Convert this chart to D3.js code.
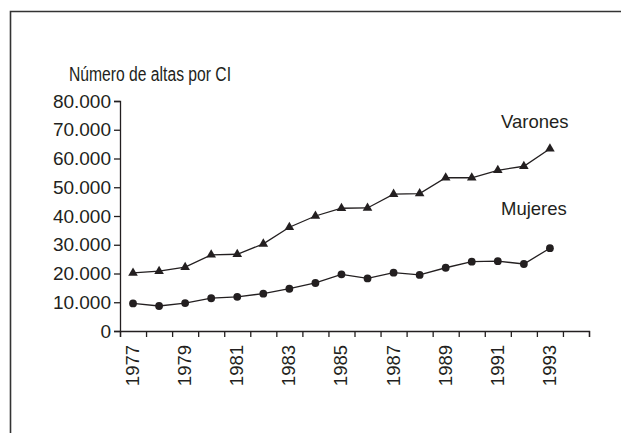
<!DOCTYPE html>
<html>
<head>
<meta charset="utf-8">
<script src="https://cdn.jsdelivr.net/npm/d3@7"></script>
<style>
  body { margin: 0; background: #fff; }
  svg text { font-family: "Liberation Sans", Arial, sans-serif; fill: #231f20; }
  .axis path, .axis line { stroke: #231f20; stroke-width: 1.3; }
</style>
</head>
<body>
<div id="chart"></div>
<script>
var width = 621;
var height = 433;

// data
var years = d3.range(1977, 1995);   // 18 bands, last one empty
var dataYears = d3.range(1977, 1994);
var varones = [20200, 20800, 22200, 26500, 26700, 30300, 36100, 40000, 42700, 42800,
               47600, 47800, 53300, 53300, 55900, 57300, 63400];
var mujeres = [9600, 8700, 9700, 11400, 11900, 13000, 14700, 16700, 19700, 18300,
               20300, 19500, 22000, 24100, 24300, 23300, 28800];
var yTicks = [0, 10000, 20000, 30000, 40000, 50000, 60000, 70000, 80000];
var xLabels = [1977, 1979, 1981, 1983, 1985, 1987, 1989, 1991, 1993];

var svg = d3.select("#chart").append("svg")
    .attr("width", width)
    .attr("height", height);

// frame around the figure (runs off the right and bottom edges)
svg.append("path")
    .attr("d", "M10.5," + height + "V11.5H" + width)
    .attr("fill", "none")
    .attr("stroke", "#333")
    .attr("stroke-width", 1.6);

var plotL = 120, plotR = 589, plotT = 101, plotB = 331;

var xScale = d3.scaleBand().domain(years).range([plotL, plotR]);
var xEdge = d3.scaleLinear().domain([0, years.length]).range([plotL, plotR]);
var yScale = d3.scaleLinear().domain([0, 80000]).range([plotB, plotT]);

var fmt = function(d) { return d3.format(",")(d).replace(/,/g, "."); };

// y axis
var yAxis = svg.append("g")
    .attr("class", "axis")
    .attr("transform", "translate(" + plotL + ",0)")
    .call(d3.axisLeft(yScale).tickValues(yTicks).tickFormat(fmt).tickSize(6).tickPadding(3));
yAxis.selectAll("text").style("font-size", "19px");

// x axis: ticks on band edges
svg.append("g")
    .attr("class", "axis")
    .attr("transform", "translate(0," + plotB + ")")
    .call(d3.axisBottom(xEdge).tickValues(d3.range(years.length + 1)).tickFormat("").tickSize(6));

svg.selectAll(".xlab")
    .data(xLabels)
    .enter()
    .append("text")
    .attr("class", "xlab")
    .attr("transform", function(d) {
        return "translate(" + (xScale(d) + xScale.bandwidth() / 2) + "," + (plotB + 14) + ") rotate(-90)";
    })
    .attr("dy", "0.32em")
    .style("text-anchor", "end")
    .style("font-size", "18.5px")
    .text(function(d) { return d; });

// title
svg.append("text")
    .attr("x", 69)
    .attr("y", 81)
    .attr("textLength", 162)
    .attr("lengthAdjust", "spacingAndGlyphs")
    .style("font-size", "19.5px")
    .text("Número de altas por CI");

var cx = function(d, i) { return xScale(dataYears[i]) + xScale.bandwidth() / 2; };

var line = d3.line()
    .x(function(d, i) { return cx(d, i); })
    .y(function(d) { return yScale(d); });

svg.append("path")
    .datum(varones)
    .attr("d", line)
    .attr("fill", "none")
    .attr("stroke", "#231f20")
    .attr("stroke-width", 1.3);

svg.append("path")
    .datum(mujeres)
    .attr("d", line)
    .attr("fill", "none")
    .attr("stroke", "#231f20")
    .attr("stroke-width", 1.3);

var tri = d3.symbol().type(d3.symbolTriangle).size(40);

svg.selectAll(".tri")
    .data(varones)
    .enter()
    .append("path")
    .attr("class", "tri")
    .attr("d", tri)
    .attr("transform", function(d, i) { return "translate(" + cx(d, i) + "," + yScale(d) + ")"; })
    .attr("fill", "#231f20");

svg.selectAll(".dot")
    .data(mujeres)
    .enter()
    .append("circle")
    .attr("class", "dot")
    .attr("cx", cx)
    .attr("cy", function(d) { return yScale(d); })
    .attr("r", 3.9)
    .attr("fill", "#231f20");

// series labels
svg.append("text")
    .attr("x", 501)
    .attr("y", 128)
    .style("font-size", "18.5px")
    .text("Varones");

svg.append("text")
    .attr("x", 501)
    .attr("y", 215)
    .style("font-size", "18.5px")
    .text("Mujeres");
</script>
</body>
</html>
